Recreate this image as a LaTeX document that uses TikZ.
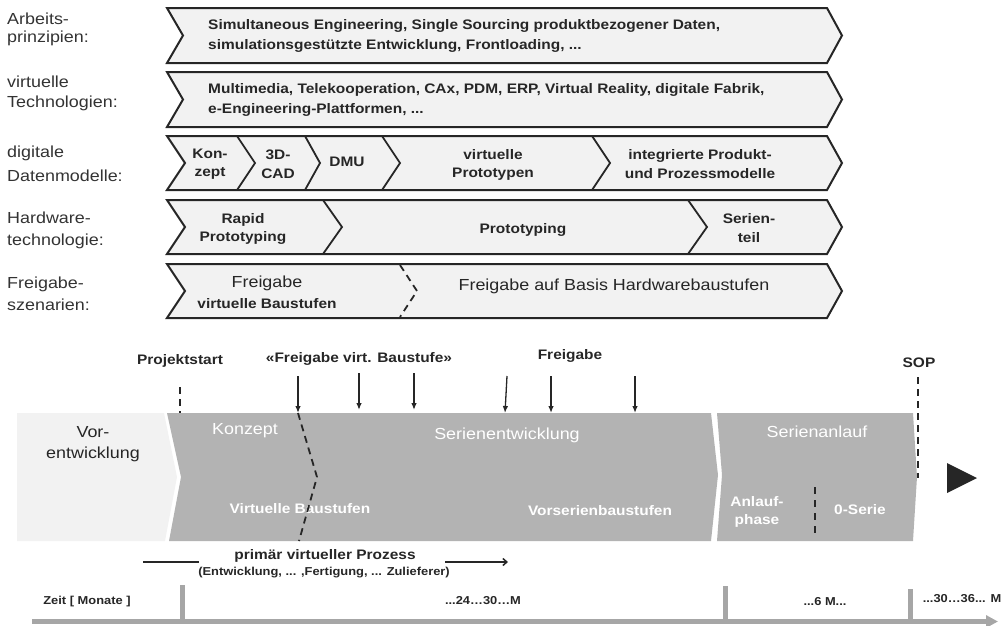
\documentclass[tikz,border=0pt]{standalone}
\usepackage{fontspec}
\setmainfont[FakeStretch=1.12]{Liberation Sans}
\usetikzlibrary{arrows.meta}
\definecolor{dk}{HTML}{262626}
\definecolor{lt}{HTML}{F2F2F2}
\definecolor{gr}{HTML}{B3B3B3}
\definecolor{ax}{HTML}{A6A6A6}
\definecolor{lab}{HTML}{333333}
\tikzset{
  lbl/.style={font=\fontsize{16}{21}\selectfont, text=lab, anchor=base west, inner sep=0pt},
  bt/.style={font=\bfseries\fontsize{13.8}{18.5}\selectfont, text=dk, align=center, inner sep=0pt},
  btl/.style={font=\bfseries\fontsize{13.8}{20}\selectfont, text=dk, align=left, inner sep=0pt, anchor=west},
  rt/.style={font=\fontsize{16}{21}\selectfont, text=dk, align=center, inner sep=0pt},
  wt/.style={font=\fontsize{16}{21}\selectfont, text=white, inner sep=0pt, anchor=base},
  wbt/.style={font=\bfseries\fontsize{13.8}{18.5}\selectfont, text=white, align=center, inner sep=0pt},
  smb/.style={font=\bfseries\fontsize{11.5}{14}\selectfont, text=dk, inner sep=0pt, anchor=base},
  chev/.style={fill=lt, draw=dk, line width=2pt, line join=miter},
  seg/.style={draw=dk, line width=1.8pt},
  dsh/.style={draw=dk, line width=1.8pt, dash pattern=on 7pt off 5pt},
  darr/.style={draw=dk, line width=1.3pt, -{Latex[length=7pt,width=5.5pt]}},
  axl/.style={draw=ax, line width=5pt},
}
\begin{document}
\begin{tikzpicture}[x=1pt,y=-1pt]
\useasboundingbox (0,0) rectangle (1004,625);

% ---------- left labels ----------
\node[lbl] (l1a) at (7,24) {Arbeits-};
\node[lbl] (l1b) at (7,42) {prinzipien:};
\node[lbl] (l2a) at (7,87) {virtuelle};
\node[lbl] (l2b) at (7,107) {Technologien:};
\node[lbl] (l3a) at (7,157) {digitale};
\node[lbl] (l3b) at (7,181) {Datenmodelle:};
\node[lbl] (l4a) at (7,223) {Hardware-};
\node[lbl] (l4b) at (7,245) {technologie:};
\node[lbl] (l5a) at (7,288) {Freigabe-};
\node[lbl] (l5b) at (7,310) {szenarien:};

% ---------- row 1 ----------
\draw[chev] (167,8) -- (827,8) -- (842,35.5) -- (827,63) -- (167,63) -- (183,35.5) -- cycle;
\node[btl] (r1) at (208,36) {Simultaneous Engineering, Single Sourcing produktbezogener Daten,\\simulationsgestützte Entwicklung, Frontloading, ...};

% ---------- row 2 ----------
\draw[chev] (167,72) -- (827,72) -- (842,99.5) -- (827,127) -- (167,127) -- (183,99.5) -- cycle;
\node[btl] (r2) at (208,100) {Multimedia, Telekooperation, CAx, PDM, ERP, Virtual Reality, digitale Fabrik,\\e-Engineering-Plattformen, ...};

% ---------- row 3 ----------
\draw[chev] (167,136) -- (827,136) -- (842,163) -- (827,190) -- (167,190) -- (185,163) -- cycle;
\draw[seg] (237,136) -- (255,163) -- (237,190);
\draw[seg] (305,136) -- (320,163) -- (305,190);
\draw[seg] (382,136) -- (400,163) -- (382,190);
\draw[seg] (592,136) -- (610,163) -- (592,190);
\node[bt] (r3a) at (210,164) {Kon-\\zept};
\node[bt] (r3b) at (278,164) {3D-\\CAD};
\node[bt] (r3c) at (347,162) {DMU};
\node[bt] (r3d) at (493,165) {virtuelle\\Prototypen};
\node[bt] (r3e) at (700,164) {integrierte Produkt-\\und Prozessmodelle};

% ---------- row 4 ----------
\draw[chev] (167,200) -- (827,200) -- (842,227) -- (827,254) -- (167,254) -- (185,227) -- cycle;
\draw[seg] (323,200) -- (342,227) -- (323,254);
\draw[seg] (688,200) -- (707,227) -- (688,254);
\node[bt] (r4a) at (243,229) {Rapid\\Prototyping};
\node[bt] (r4b) at (523,230) {Prototyping};
\node[bt] (r4c) at (749,228) {Serien-\\teil};

% ---------- row 5 ----------
\draw[chev] (167,264) -- (827,264) -- (842,291) -- (827,318) -- (167,318) -- (185,291) -- cycle;
\draw[dsh] (400,265) -- (417,291) -- (400,317);
\node[rt] (r5a) at (267,292) {{\fontsize{16}{17}\selectfont Freigabe}\\{\bfseries\fontsize{13.8}{17}\selectfont virtuelle Baustufen}};
\node[rt] (r5b) at (614,286) {Freigabe auf Basis Hardwarebaustufen};

% ---------- phase band ----------
\fill[lt] (17,413) -- (164,413) -- (177,477) -- (165,541) -- (17,541) -- cycle;
\fill[gr] (167,413) -- (711,413) -- (718,475) -- (711,541) -- (169,541) -- (181,477) -- cycle;
\fill[gr] (717,413) -- (913,413) -- (917,477) -- (913,541) -- (717,541) -- (722,475) -- cycle;

\node[rt] (vor) at (93,444) {Vor-\\entwicklung};
\node[wt] (konz) at (245,434) {Konzept};
\node[wt] (sere) at (507,439) {Serienentwicklung};
\node[wt] (sera) at (817,437) {Serienanlauf};
\node[wbt] (virtb) at (300,509) {Virtuelle Baustufen};
\node[wbt] (vors) at (600,511) {Vorserienbaustufen};
\node[wbt] (anl) at (757,512) {Anlauf-\\phase};
\node[wbt] (null) at (860,510) {0-Serie};
\coordinate (anlT) at (815,487);
\coordinate (anlB) at (815,533);
\draw[dsh, line width=1.6pt, dash pattern=on 7pt off 6pt] (anlT) -- (anlB);

% slanted dashed virtual/hardware boundary
\coordinate (vd1) at (298,413);
\coordinate (vd2) at (317,477);
\coordinate (vd3) at (299,541);
\draw[dsh] (vd1) -- (vd2) -- (vd3);

% ---------- milestones ----------
\node[bt, anchor=base] (pst) at (180,364) {Projektstart};
\node[bt, anchor=base] (fvb) at (359,362) {«Freigabe virt. Baustufe»};
\node[bt, anchor=base] (frg) at (570,359) {Freigabe};
\node[bt, anchor=base] (sop) at (919,367) {SOP};

\coordinate (ps1) at (180,387);
\coordinate (ps2) at (180,413);
\draw[dsh] (ps1) -- (ps2);
\coordinate (sp1) at (918,377);
\coordinate (sp2) at (918,478);
\draw[dsh] (sp1) -- (sp2);

\coordinate (a1s) at (298,376); \coordinate (a1e) at (298,413);
\coordinate (a2s) at (359,373); \coordinate (a2e) at (359,410);
\coordinate (a3s) at (414,373); \coordinate (a3e) at (414,410);
\coordinate (a4s) at (507,376); \coordinate (a4e) at (505,413);
\coordinate (a5s) at (551,376); \coordinate (a5e) at (551,413);
\coordinate (a6s) at (635,376); \coordinate (a6e) at (635,413);
\draw[darr] (a1s) -- (a1e);
\draw[darr] (a2s) -- (a2e);
\draw[darr] (a3s) -- (a3e);
\draw[darr] (a4s) -- (a4e);
\draw[darr] (a5s) -- (a5e);
\draw[darr] (a6s) -- (a6e);

% big triangle
\fill[dk] (947,463) -- (977,478) -- (947,493) -- cycle;

% ---------- primary virtual process ----------
\node[bt, anchor=base] (prim) at (325,559) {primär virtueller Prozess};
\node[smb] (prim2) at (324,575) {(Entwicklung, ... ,Fertigung, ... Zulieferer)};
\coordinate (pl1) at (143,562);
\coordinate (pl2) at (199,562);
\coordinate (pr1) at (445,562);
\coordinate (pr2) at (508,562);
\draw[dk, line width=1.5pt] (pl1) -- (pl2);
\draw[dk, line width=1.5pt, -{Straight Barb[length=4pt,width=7pt]}] (pr1) -- (pr2);

% ---------- time axis ----------
\coordinate (ax1) at (32,621.5);
\coordinate (ax2) at (998,621.5);
\draw[axl, -{Triangle[length=12pt,width=12pt]}] (ax1) -- (ax2);
\coordinate (t1a) at (182,585); \coordinate (t1b) at (182,620);
\coordinate (t2a) at (725,586); \coordinate (t2b) at (725,620);
\coordinate (t3a) at (910,589); \coordinate (t3b) at (910,620);
\draw[axl] (t1a) -- (t1b);
\draw[axl] (t2a) -- (t2b);
\draw[axl] (t3a) -- (t3b);

\node[smb] (zeit) at (87,604) {Zeit [ Monate ]};
\node[smb] (m24) at (483,604) {...24…30…M};
\node[smb] (m6) at (825,605) {...6 M...};
\node[smb] (m30) at (962,602) {...30…36... M};
\end{tikzpicture}
\end{document}
